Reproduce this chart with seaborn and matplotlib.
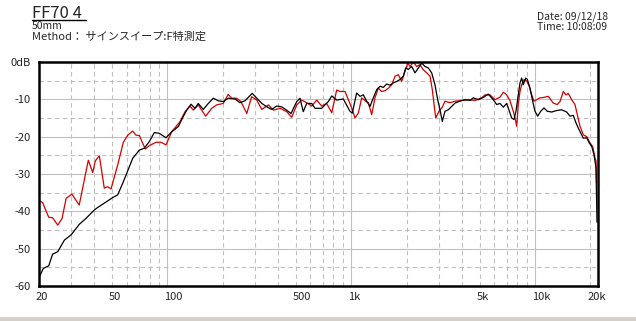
import numpy as np
import pandas as pd
import matplotlib
matplotlib.use("Agg")
import matplotlib.pyplot as plt
import matplotlib.transforms as mtransforms
from matplotlib.lines import Line2D
from matplotlib.patches import Rectangle
import seaborn as sns

# ---------------- data ----------------
black_freq = [20, 21.1, 22.6, 23.7, 25.3, 27.5, 29.9, 33.1, 36.0, 40.5, 44.4, 50.4, 53.6, 57.5,
              64.7, 70.3, 74.8, 79.7, 84.8, 90.2, 98.2, 105.4, 114.5, 121.9, 127.3, 134.3, 141.2,
              147.1, 156.6, 166.8, 177.6, 189, 201, 214, 233, 248, 264, 289, 306, 326, 347, 369,
              393, 418, 445, 470, 505, 526, 548, 572, 609, 635, 690, 750, 783, 833, 905, 984,
              1013, 1070, 1116, 1163, 1213, 1265, 1318, 1375, 1434, 1494, 1559, 1625, 1694, 1767,
              1841, 1919, 1978, 2042, 2132, 2222, 2316, 2418, 2519, 2626, 2738, 2854, 2952, 3039,
              3128, 3236, 3373, 3520, 3668, 3904, 4156, 4426, 4612, 4910, 5228, 5565, 5925, 6184,
              6445, 6719, 7011, 7307, 7462, 7679, 7873, 8103, 8279, 8457, 8628, 8892, 9072, 9383,
              9707, 9990, 10334, 10730, 11183, 11656, 12316, 13110, 13960, 14862, 15490, 16144,
              16700, 17188, 17710, 18300, 19096, 19726, 20330, 20920, 21460, 21720]
black_db = [-57.8, -55.3, -54.6, -51.5, -50.8, -47.7, -46.3, -43.5, -41.9, -39.4, -38.1, -36.3,
            -35.6, -32.1, -25.8, -23.6, -23.1, -21.3, -18.9, -19.1, -20.3, -18.7, -17.3, -14.6,
            -12.9, -11.3, -12.4, -11.1, -12.7, -11.1, -9.7, -10.4, -10.6, -9.7, -9.9, -10.9,
            -10.4, -8.4, -9.7, -11.1, -12.0, -12.7, -11.8, -12.0, -12.9, -13.8, -10.6, -9.7,
            -13.3, -11.1, -11.1, -12.4, -12.4, -10.6, -9.1, -10.2, -9.9, -13.2, -13.7, -8.3,
            -9.2, -8.8, -10.5, -11.9, -9.6, -7.4, -6.5, -6.8, -5.9, -6.2, -5.6, -5.2, -4.7,
            -3.8, -1.6, -2.0, -1.2, -2.9, -1.6, -0.3, -1.2, -1.6, -2.9, -6.1, -10.1, -12.8,
            -15.9, -13.2, -12.8, -11.9, -11.0, -10.5, -10.1, -10.3, -9.6, -10.1, -9.5, -8.6,
            -10.1, -11.4, -11.1, -12.1, -11.1, -13.7, -15.0, -15.4, -13.2, -8.8, -5.6, -4.3,
            -6.1, -4.3, -4.6, -7.0, -10.5, -13.2, -14.5, -13.2, -12.3, -13.2, -13.4, -13.0,
            -12.8, -13.4, -14.5, -14.3, -16.3, -17.7, -19.0, -20.4, -20.3, -21.7, -22.6,
            -24.8, -28.4, -42.9]

red_freq = [20, 20.9, 22.6, 23.7, 25.3, 26.7, 28.1, 30.2, 33.1, 37.1, 39.2, 40.5, 42.6, 45.3,
            47.3, 49.3, 53.6, 57.5, 60.8, 64.7, 67.4, 70.3, 75.7, 79.7, 86.6, 92.2, 98.2, 105.4,
            117, 124.6, 132.6, 138.2, 147.1, 161.4, 174, 185, 201, 214, 224, 238, 251, 270, 287,
            306, 326, 354, 377, 410, 445, 474, 505, 537, 572, 609, 649, 690, 735, 783, 833, 868,
            925, 964, 1005, 1048, 1092, 1140, 1198, 1238, 1292, 1346, 1403, 1464, 1526, 1591,
            1660, 1730, 1803, 1881, 1960, 2028, 2088, 2176, 2270, 2366, 2466, 2574, 2682, 2760,
            2830, 2880, 3002, 3128, 3236, 3444, 3668, 3988, 4332, 4712, 5124, 5342, 5686, 6054,
            6445, 6719, 7011, 7307, 7612, 7778, 7944, 8103, 8279, 8457, 8706, 9004, 9302, 9586,
            9866, 10204, 10636, 11084, 11802, 12564, 13212, 13666, 14242, 14732, 15166, 15822,
            16490, 16970, 17554, 18300, 19096, 19898, 20580, 21180, 21460, 21590]
red_db = [-37.2, -37.6, -41.6, -41.7, -43.7, -41.9, -36.5, -35.4, -38.3, -26.3, -29.6, -26.5,
          -25.1, -33.8, -33.4, -34.0, -27.6, -21.5, -19.6, -18.5, -19.6, -19.7, -23.3, -22.4,
          -21.5, -21.5, -22.2, -18.7, -16.0, -13.3, -11.8, -12.9, -11.5, -14.5, -12.4, -11.5,
          -11.1, -8.7, -9.7, -9.7, -10.6, -13.8, -9.3, -10.2, -12.7, -11.5, -12.9, -12.4,
          -13.3, -14.8, -11.5, -10.2, -10.9, -11.8, -10.2, -11.8, -11.1, -13.6, -7.5, -7.9,
          -7.9, -10.1, -12.3, -15.0, -13.7, -9.6, -10.5, -10.9, -14.1, -9.6, -7.0, -7.9, -7.7,
          -7.0, -6.1, -3.8, -3.4, -5.2, -2.5, -0.3, -1.2, 0.0, -1.2, -0.7, -2.1, -2.9, -3.8,
          -7.4, -11.9, -15.0, -13.2, -12.1, -10.5, -10.9, -10.5, -10.3, -10.1, -10.3, -9.6,
          -8.8, -8.8, -10.1, -9.4, -8.1, -8.8, -10.4, -13.2, -15.0, -17.2, -11.4, -7.9, -6.1,
          -4.7, -5.1, -6.5, -8.8, -10.5, -10.1, -9.6, -9.5, -9.2, -11.0, -11.4, -10.6, -7.9,
          -8.8, -8.4, -10.1, -11.4, -14.1, -17.2, -19.5, -20.0, -21.7, -22.6, -25.7, -26.5,
          -32.4]

x_ticks = [20, 50, 100, 500, 1000, 5000, 10000, 20000]
x_tick_labels = ["20", "50", "100", "500", "1k", "5k", "10k", "20k"]
y_ticks = [0, -10, -20, -30, -40, -50, -60]
y_tick_labels = ["0dB", "-10", "-20", "-30", "-40", "-50", "-60"]

df = pd.concat([
    pd.DataFrame({"freq": red_freq, "db": red_db, "series": "red"}),
    pd.DataFrame({"freq": black_freq, "db": black_db, "series": "black"}),
])

# ---------------- figure ----------------
sns.set_style("white")
plt.rcParams["font.family"] = ["Noto Sans CJK JP", "DejaVu Sans"]

fig = plt.figure(figsize=(6.36, 3.21), dpi=100)
ax = fig.add_axes([39 / 636, 1 - 286 / 321, (598 - 39) / 636, (286 - 62) / 321])

sns.lineplot(data=df, x="freq", y="db", hue="series",
             palette={"red": "#d40000", "black": "#000000"},
             estimator=None, sort=False, legend=False, linewidth=0.9, ax=ax)

ax.set_xscale("log")
ax.set_xlim(20, 22000)
ax.set_ylim(-60, 0)
ax.set_xlabel("")
ax.set_ylabel("")

minor_x = [f * m for m in (10, 100, 1000) for f in range(2, 10)] + [20000]
minor_x = [v for v in minor_x if v >= 20 and v not in (100, 1000, 10000)]
ax.set_xticks(minor_x, minor=True)
ax.set_xticks(x_ticks, x_tick_labels)
ax.set_yticks(y_ticks, y_tick_labels)
ax.set_yticks([-55, -45, -35, -25, -15, -5], minor=True)
ax.xaxis.set_minor_formatter(matplotlib.ticker.NullFormatter())

ax.set_axisbelow(True)
ax.grid(False)
gcol = "#c0c0c0"
for v in [100, 1000, 10000]:
    ax.axvline(v, color=gcol, lw=0.8, zorder=0)
for v in minor_x:
    ax.axvline(v, color=gcol, lw=0.8, ls=(0, (4, 3)), zorder=0)
for v in [-10, -20, -30, -40, -50]:
    ax.axhline(v, color=gcol, lw=0.8, zorder=0)
for v in [-55, -45, -35, -25, -15, -5]:
    ax.axhline(v, color=gcol, lw=0.8, ls=(0, (4, 3)), zorder=0)

ax.tick_params(which="both", length=0)
ax.tick_params(axis="x", pad=4, labelsize=8)
ax.tick_params(axis="y", pad=6, labelsize=8)
offset = mtransforms.ScaledTranslation(-3 / 100, 0, fig.dpi_scale_trans)
for lbl in ax.get_xticklabels():
    lbl.set_horizontalalignment("left")
    lbl.set_transform(lbl.get_transform() + offset)

for s in ax.spines.values():
    s.set_visible(True)
    s.set_color("black")
    s.set_linewidth(1.8)

# header texts
fig.text(32 / 636, 1 - 18 / 321, "FF70 4", fontsize=12, va="baseline", ha="left")
fig.add_artist(Line2D([32 / 636, 86 / 636], [1 - 20 / 321, 1 - 20 / 321],
                      color="black", lw=1.0, transform=fig.transFigure))
fig.text(32 / 636, 1 - 29 / 321, "50mm", fontsize=7.5, va="baseline", ha="left")
fig.text(32 / 636, 1 - 40 / 321, "Method： サインスイープ:F特測定", fontsize=8,
         va="baseline", ha="left")
fig.text(537 / 636, 1 - 20 / 321, "Date: 09/12/18", fontsize=7.5, va="baseline", ha="left")
fig.text(537 / 636, 1 - 30 / 321, "Time: 10:08:09", fontsize=7.5, va="baseline", ha="left")

fig.add_artist(Rectangle((0, 0), 1, 4 / 321, transform=fig.transFigure,
                         facecolor="#d4d0c8", edgecolor="none"))

fig.savefig("out.png", dpi=100)
